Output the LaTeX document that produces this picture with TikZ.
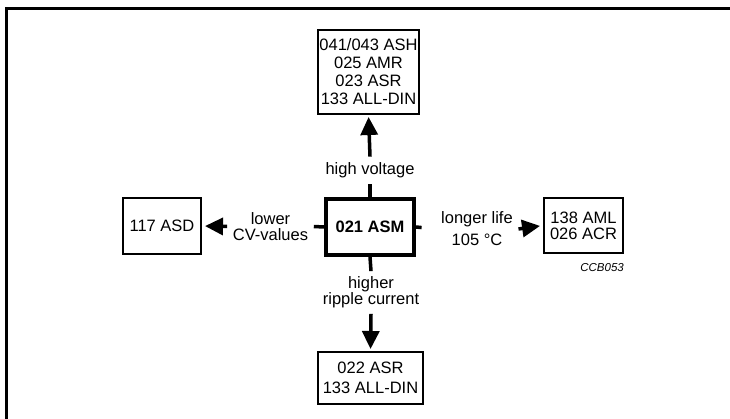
\documentclass[tikz,border=0pt]{standalone}
\usepackage{fontspec}
\setmainfont{Liberation Sans}
\usetikzlibrary{arrows.meta}
\tikzset{
  box/.style={draw, line width=2pt, align=center, inner sep=0pt},
  mainbox/.style={draw, line width=4pt, align=center, inner sep=0pt, font=\fontsize{16.5}{18}\selectfont\bfseries},
  lbl/.style={align=center, inner sep=5.5pt},
  arr/.style={line width=3.5pt, -{Triangle[width=17pt,length=18pt]}},
  stub/.style={line width=3.5pt},
  frame/.style={line width=3pt}
}
\begin{document}
\begin{tikzpicture}[x=1pt,y=-1pt,font=\fontsize{16.5}{18}\selectfont]
\useasboundingbox (0,0) rectangle (730,419);
\draw[frame] (6,419) -- (6,9) -- (731,9);
% boxes
\node[box, minimum width=101pt, minimum height=84pt] (top) at (368.5,72)
  {041/043 ASH\\025 AMR\\023 ASR\\133 ALL-DIN};
\node[mainbox, minimum width=88pt, minimum height=56pt] (asm) at (370,227) {021 ASM};
\node[box, minimum width=78pt, minimum height=56pt] (lft) at (162,226) {117 ASD};
\node[box, minimum width=79pt, minimum height=55pt] (rgt) at (583.5,225.5)
  {138 AML\\[-2pt]026 ACR};
\node[box, minimum width=105pt, minimum height=52pt] (bot) at (370.5,378)
  {022 ASR\\[2pt]133 ALL-DIN};
% labels
\node[lbl, inner sep=6pt] (hv) at (370,170.5) {high voltage};
\node[lbl] (lv) at (270.5,226.5) {lower\\[-2pt]CV-values};
\node[lbl] (rv) at (477,229) {longer life\\[4pt]105 °C};
\node[lbl] (rc) at (371,292.5) {higher\\[-2pt]ripple current};
\node[inner sep=0pt, anchor=east, font=\fontsize{11.5}{13}\selectfont\itshape] (ccb) at (624,268) {CCB053};
% stubs
\draw[stub] (asm.north) -- (hv.south);
\draw[stub] (asm.west) -- (lv.east);
\draw[stub, shorten >=14pt] (asm.east) -- (rv.west);
\draw[stub] (asm.south) -- (rc.north);
% arrows
\draw[arr, shorten >=2pt] (hv.north) -- (top.south);
\draw[arr, shorten >=3pt] (lv.west) -- (lft.east);
\draw[arr, shorten >=3pt] (rv.east) -- (rgt.west);
\draw[arr, shorten >=2pt] (rc.south) -- (bot.north);
\end{tikzpicture}
\end{document}
